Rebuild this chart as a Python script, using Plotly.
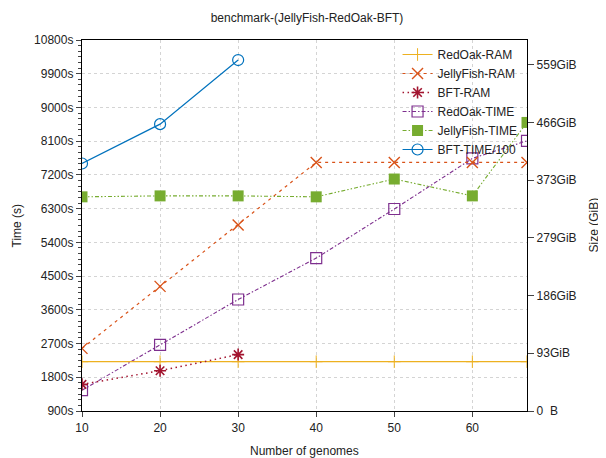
import plotly.graph_objects as go

# ---- data ----
genomes = [10, 20, 30, 40, 50, 60, 67]
bft_genomes = [10, 20, 30]

redoak_ram = [79.5, 79.5, 79.5, 79.5, 79.5, 79.5, 79.5]          # GiB
jellyfish_ram = [101, 201, 300, 401, 401, 401, 401]               # GiB
bft_ram = [43, 65, 91]                                           # GiB
redoak_time = [1455, 2665, 3875, 4980, 6290, 7640, 8110]          # s
jellyfish_time = [6615, 6640, 6640, 6615, 7090, 6640, 8600]       # s
bft_time_100 = [7505, 8555, 10265]                               # s

left_ticks = [900, 1800, 2700, 3600, 4500, 5400, 6300, 7200, 8100, 9000, 9900, 10800]
left_tick_text = [f"{v}s" for v in left_ticks]
gib_per_100gb = 100e9 / 2**30
right_tick_vals = [k * gib_per_100gb for k in range(7)]
right_tick_text = ["0\u00a0\u00a0B", "93GiB", "186GiB", "279GiB", "373GiB", "466GiB", "559GiB"]
x_ticks = [10, 20, 30, 40, 50, 60]

C_YEL = "#edb120"
C_ORG = "#d95319"
C_RED = "#a2142f"
C_PUR = "#7e2f8e"
C_GRN = "#77ac30"
C_BLU = "#0072bd"

FONT = "Liberation Sans, Arial, sans-serif"

# page body has an 8px default margin, so the figure is sized to fit
W, H = 598, 450

fig = go.Figure()

fig.add_trace(go.Scatter(x=genomes, y=redoak_ram, name="RedOak-RAM", yaxis="y2",
                         mode="lines+markers",
                         line=dict(color=C_YEL, width=1.2),
                         marker=dict(symbol="cross-thin", size=9, line=dict(color=C_YEL, width=1))))
fig.add_trace(go.Scatter(x=genomes, y=jellyfish_ram, name="JellyFish-RAM", yaxis="y2",
                         mode="lines+markers",
                         line=dict(color=C_ORG, width=1.2, dash="3px,4px"),
                         marker=dict(symbol="x-thin", size=11, line=dict(color=C_ORG, width=1.4))))
fig.add_trace(go.Scatter(x=bft_genomes, y=bft_ram, name="BFT-RAM", yaxis="y2",
                         mode="lines+markers",
                         line=dict(color=C_RED, width=1.5, dash="1.5px,3.5px"),
                         marker=dict(symbol="asterisk", size=10, line=dict(color=C_RED, width=1.6))))
fig.add_trace(go.Scatter(x=genomes, y=redoak_time, name="RedOak-TIME", yaxis="y",
                         mode="lines+markers",
                         line=dict(color=C_PUR, width=1.1, dash="4px,2px,1.5px,2px"),
                         marker=dict(symbol="square-open", size=11, color=C_PUR, line=dict(color=C_PUR, width=1.2))))
fig.add_trace(go.Scatter(x=genomes, y=jellyfish_time, name="JellyFish-TIME", yaxis="y",
                         mode="lines+markers",
                         line=dict(color=C_GRN, width=1.1, dash="4px,2px,1.5px,2px,1.5px,2px"),
                         marker=dict(symbol="square", size=11, color=C_GRN)))
fig.add_trace(go.Scatter(x=bft_genomes, y=bft_time_100, name="BFT-TIME/100", yaxis="y",
                         mode="lines+markers",
                         line=dict(color=C_BLU, width=1.2),
                         marker=dict(symbol="circle-open", size=11, color=C_BLU, line=dict(color=C_BLU, width=1.2))))

grid = dict(showgrid=True, gridcolor="#d4d4d4", griddash="dot", gridwidth=1)

fig.update_layout(
    width=W, height=H,
    margin=dict(l=74, r=79, t=32, b=47, autoexpand=False),
    paper_bgcolor="white", plot_bgcolor="white",
    font=dict(family=FONT, size=12, color="#222"),
    title=dict(text="benchmark-(JellyFish-RedOak-BFT)", x=0.5, xanchor="center",
               y=1 - 10 / H, yanchor="middle", font=dict(size=12, family=FONT)),
    xaxis=dict(range=[10, 67], tickvals=x_ticks, ticks="outside", ticklen=5,
               showline=True, linecolor="black", linewidth=1.3, mirror=True,
               zeroline=False, automargin=False, **grid),
    yaxis=dict(range=[900, 10800], tickvals=left_ticks, ticktext=left_tick_text,
               ticks="outside", ticklen=5, showline=True, linecolor="black", linewidth=1.3,
               minor=dict(dtick=150, ticks="outside", ticklen=3, tickcolor="#444", showgrid=False),
               zeroline=False, automargin=False, **grid),
    yaxis2=dict(range=[0, 598.4], overlaying="y", side="right",
                tickvals=right_tick_vals, ticktext=right_tick_text,
                ticks="outside", ticklen=6, showline=True, linecolor="black", linewidth=1.3,
                showgrid=False, zeroline=False, automargin=False),
    legend=dict(x=0.99, y=1.0, xanchor="right", yanchor="top",
                bgcolor="rgba(255,255,255,0)", borderwidth=0,
                font=dict(size=12, family=FONT), itemwidth=30),
    showlegend=True,
    annotations=[
        dict(text="Number of genomes", xref="paper", yref="paper", x=0.5, y=0,
             yshift=-40, xanchor="center", yanchor="middle", showarrow=False,
             font=dict(size=12)),
        dict(text="Time (s)", xref="paper", yref="paper", x=0, y=0.5,
             xshift=-66, xanchor="center", yanchor="middle", textangle=-90,
             showarrow=False, font=dict(size=12)),
        dict(text="Size (GiB)", xref="paper", yref="paper", x=1, y=0.5,
             xshift=66, xanchor="center", yanchor="middle", textangle=-90,
             showarrow=False, font=dict(size=12)),
    ],
)

fig.write_html("out.html")
